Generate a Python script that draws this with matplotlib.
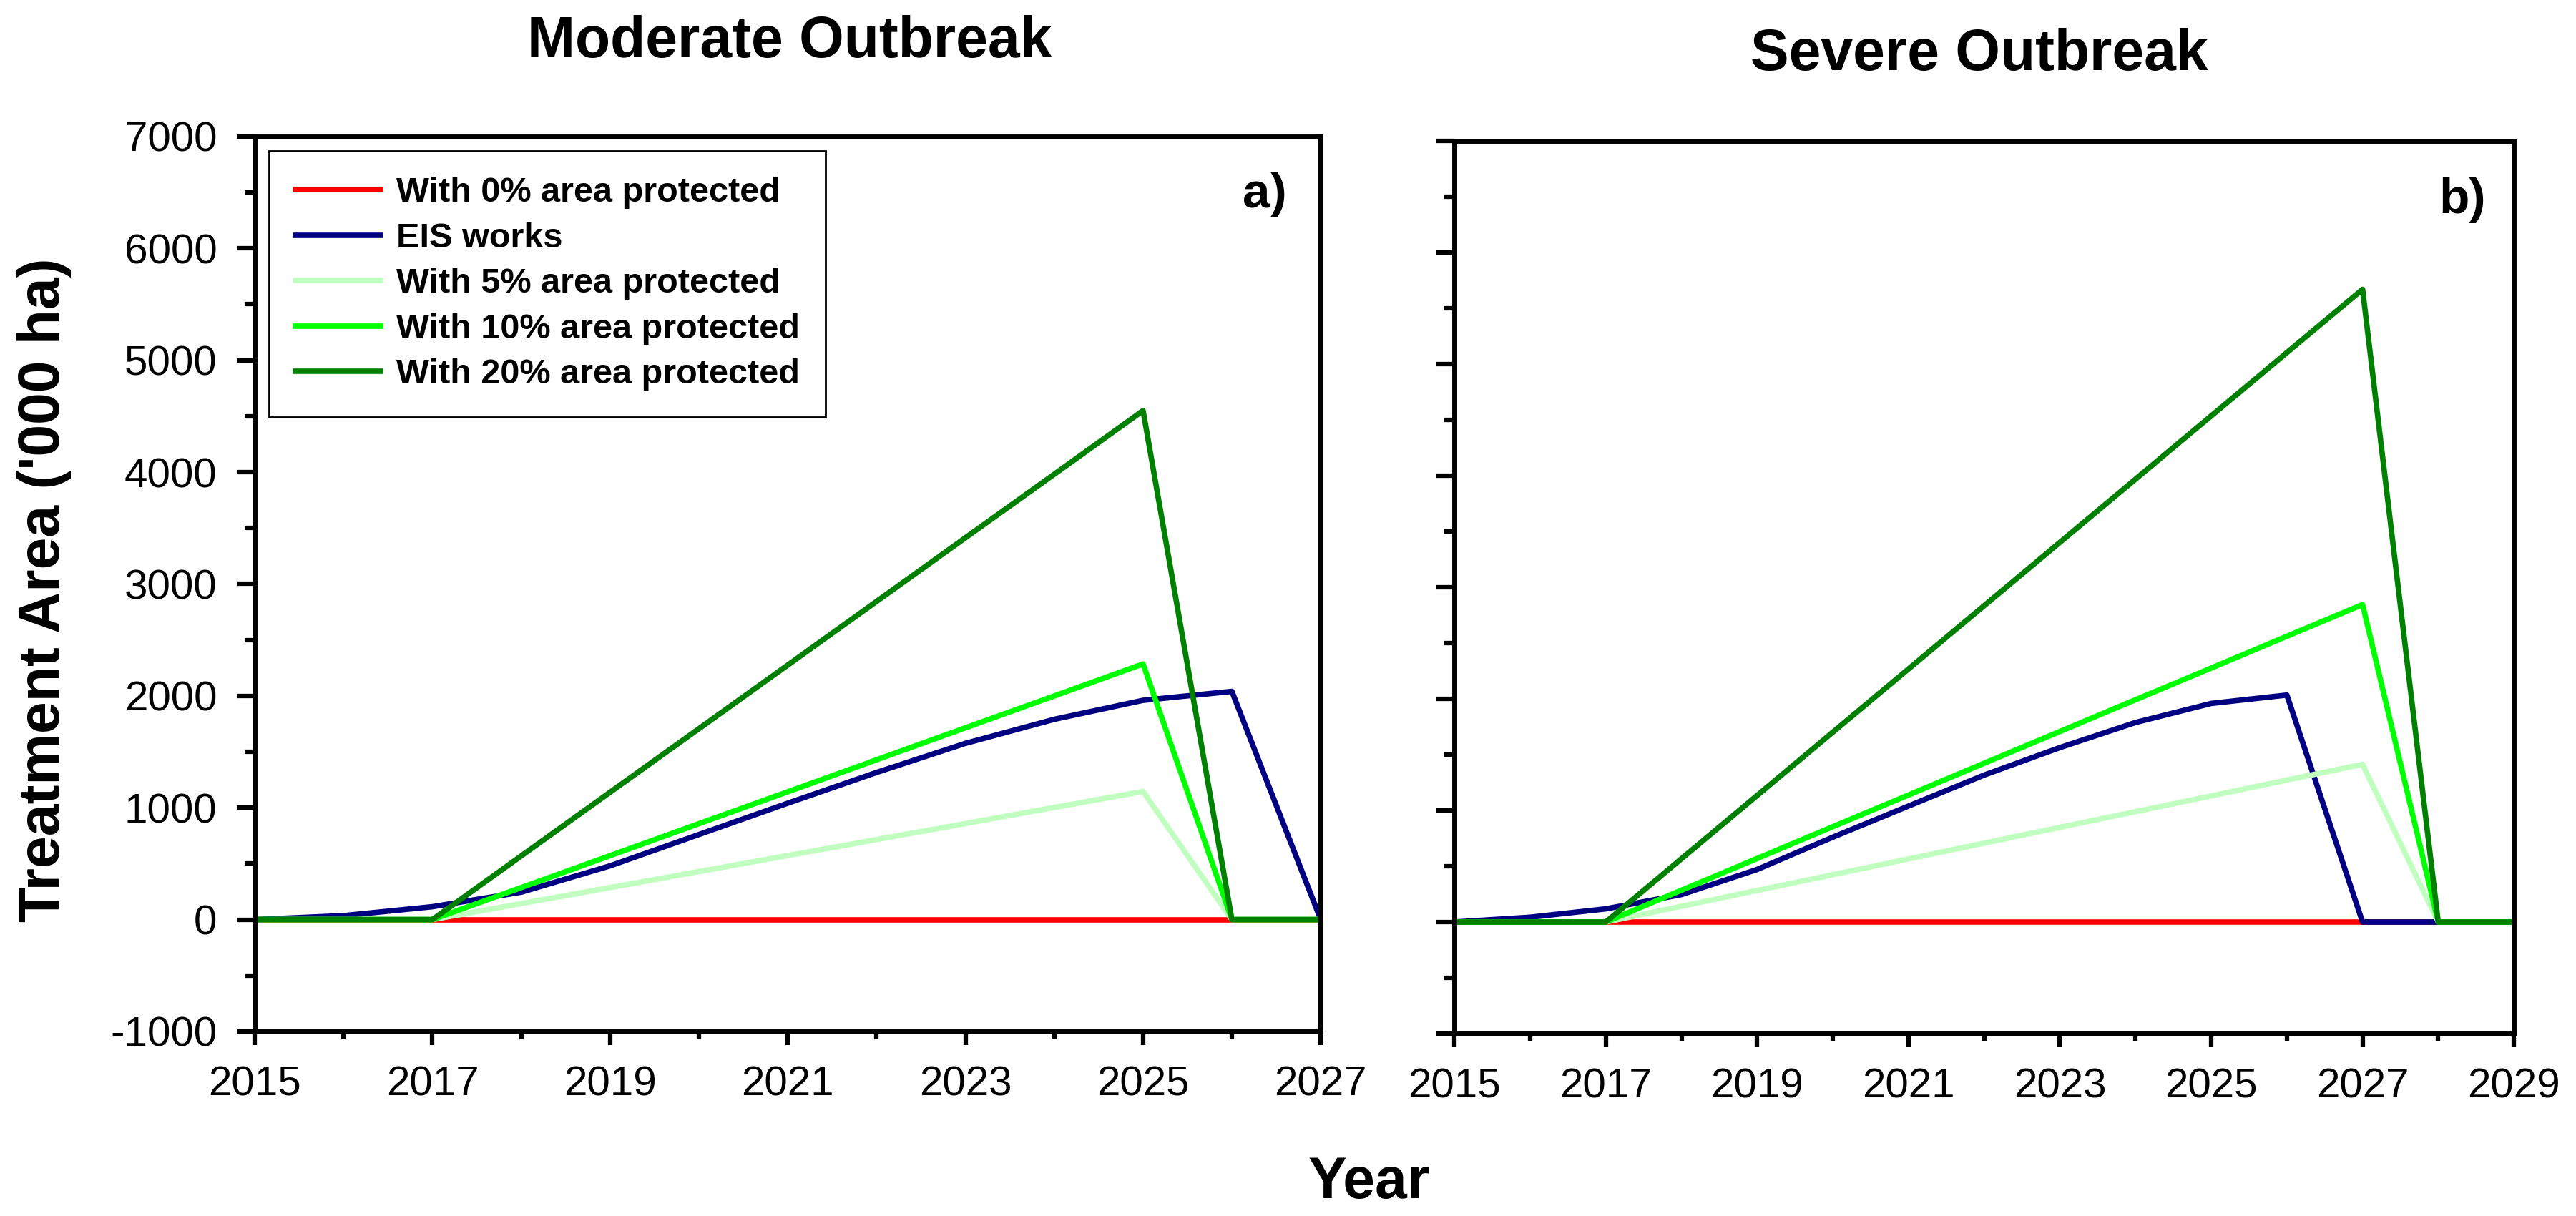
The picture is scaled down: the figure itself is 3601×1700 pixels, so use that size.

# plot.py
# Treatment area under moderate and severe outbreak scenarios

import matplotlib
matplotlib.use("Agg")
import matplotlib.pyplot as plt
from matplotlib.ticker import MultipleLocator

plt.rcParams["font.family"] = "Liberation Sans"
plt.rcParams["axes.unicode_minus"] = False   # plain hyphen in "-1000"

# ---------------------------------------------------------
# DATA ('000 ha)
# ---------------------------------------------------------
series_labels = [
    "With 0% area protected",
    "EIS works",
    "With 5% area protected",
    "With 10% area protected",
    "With 20% area protected",
]
series_colors = ["#ff0000", "#000080", "#c0ffc0", "#00ff00", "#008000"]

# moderate outbreak, 2015-2027
years_mod = [2015, 2016, 2017, 2018, 2019, 2020, 2021, 2022, 2023, 2024, 2025, 2026, 2027]
mod_p0 = [0, 0, 0, 0, 0, 0, 0, 0, 0, 0, 0, 0, 0]
mod_eis = [0, 35, 115, 245, 480, 760, 1040, 1315, 1575, 1790, 1960, 2040, 0]
mod_p5 = [0, 0, 0, 143, 286, 429, 572, 715, 858, 1002, 1145, 0, 0]
mod_p10 = [0, 0, 0, 286, 571, 857, 1142, 1428, 1714, 1999, 2285, 0, 0]
mod_p20 = [0, 0, 0, 569, 1138, 1706, 2275, 2844, 3413, 3981, 4550, 0, 0]

# severe outbreak, 2015-2029
years_sev = [2015, 2016, 2017, 2018, 2019, 2020, 2021, 2022, 2023, 2024, 2025, 2026, 2027, 2028, 2029]
sev_p0 = [0, 0, 0, 0, 0, 0, 0, 0, 0, 0, 0, 0, 0, 0, 0]
sev_eis = [0, 43, 118, 246, 471, 760, 1039, 1317, 1563, 1788, 1959, 2034, 0, 0, 0]
sev_p5 = [0, 0, 0, 141, 283, 424, 565, 707, 848, 989, 1130, 1272, 1413, 0, 0]
sev_p10 = [0, 0, 0, 285, 569, 854, 1138, 1423, 1707, 1992, 2276, 2561, 2845, 0, 0]
sev_p20 = [0, 0, 0, 567, 1134, 1701, 2268, 2835, 3402, 3969, 4536, 5103, 5670, 0, 0]

# ---------------------------------------------------------
# FIGURE
# ---------------------------------------------------------
fig = plt.figure(figsize=(36.01, 17), dpi=100)
ax1 = fig.add_axes([0.0989, 0.1518, 0.4138, 0.7359])
ax2 = fig.add_axes([0.5646, 0.1500, 0.4113, 0.7341])

LW = 5.5


def style_axes(ax, years, show_ylabels):
    ax.set_ylim(-1000, 7000)
    ax.set_xlim(years[0], years[-1])
    ax.set_xticks(years[::2])          # labelled every other year: 2015, 2017, ...
    ax.set_xticks(years, minor=True)
    ax.yaxis.set_major_locator(MultipleLocator(1000))
    ax.yaxis.set_minor_locator(MultipleLocator(500))
    for sp in ax.spines.values():
        sp.set_linewidth(5)
    ax.tick_params(axis="y", which="major", direction="out", length=18, width=4.5,
                   labelsize=42, pad=20, labelleft=show_ylabels)
    ax.tick_params(axis="y", which="minor", direction="out", length=10, width=4.5)
    ax.tick_params(axis="x", which="major", direction="out", length=14, width=4.5,
                   labelsize=42, pad=20)
    ax.tick_params(axis="x", which="minor", direction="out", length=8, width=4.5)


# panel a) moderate
for vals, lab, col in zip([mod_p0, mod_eis, mod_p5, mod_p10, mod_p20], series_labels, series_colors):
    ax1.plot(years_mod, vals, color=col, linewidth=LW, label=lab)
style_axes(ax1, years_mod, True)

leg = ax1.legend(loc="upper left", bbox_to_anchor=(0.0134, 0.984), fancybox=False,
                 edgecolor="black", framealpha=1, handlelength=2.45, handletextpad=0.45,
                 labelspacing=0.38, borderpad=0.75, borderaxespad=0,
                 prop={"size": 35, "weight": "bold"})
leg.get_frame().set_linewidth(2)

# panel b) severe
for vals, lab, col in zip([sev_p0, sev_eis, sev_p5, sev_p10, sev_p20], series_labels, series_colors):
    ax2.plot(years_sev, vals, color=col, linewidth=LW, label=lab)
style_axes(ax2, years_sev, False)

# ---------------------------------------------------------
# TEXT
# ---------------------------------------------------------
fig.text(0.3066, 0.953, "Moderate Outbreak", ha="center", va="baseline",
         fontsize=58, fontweight="bold")
fig.text(0.7684, 0.9424, "Severe Outbreak", ha="center", va="baseline",
         fontsize=58, fontweight="bold")
fig.text(0.4996, 0.8294, "a)", ha="right", va="baseline", fontsize=50, fontweight="bold")
fig.text(0.9650, 0.8247, "b)", ha="right", va="baseline", fontsize=50, fontweight="bold")
fig.text(0.5315, 0.0147, "Year", ha="center", va="baseline", fontsize=58, fontweight="bold")
fig.text(0.0172, 0.5147, "Treatment Area ('000 ha)", ha="center", va="center",
         rotation=90, fontsize=58, fontweight="bold")

fig.savefig("out.png", dpi=100)
